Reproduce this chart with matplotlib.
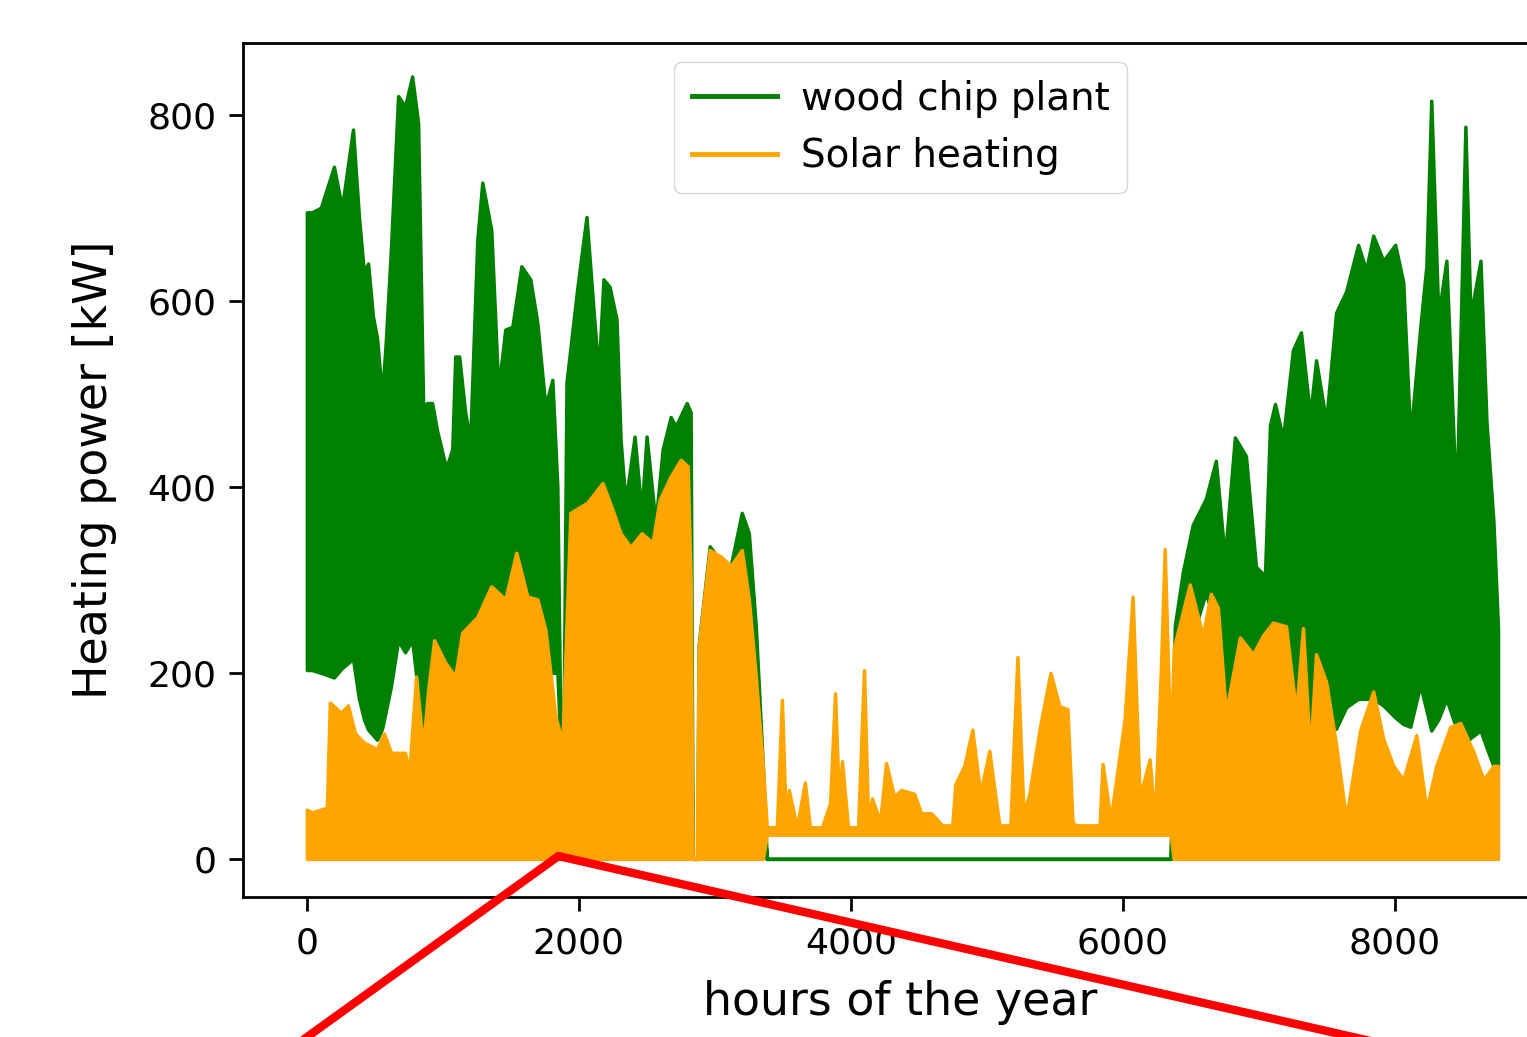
import matplotlib
matplotlib.use("Agg")
import matplotlib.pyplot as plt
from matplotlib.lines import Line2D

# wood chip plant: hour, upper envelope, lower envelope [kW]
wood_hours = [0, 37, 103, 199, 258, 339, 383, 420, 450, 486, 516, 553, 582, 619, 671,
              722, 774, 818, 855, 884, 921, 958, 1024, 1069, 1091, 1120, 1164, 1201,
              1253, 1290, 1356, 1408, 1459, 1511, 1577, 1643, 1695, 1754, 1805, 1842,
              1864, 1887, 1909, 1990, 2056, 2108, 2145, 2181, 2226, 2277, 2307, 2343,
              2410, 2461, 2498, 2564, 2616, 2675, 2712, 2793, 2822, 2837, 2870, 2881,
              2962, 3043, 3117, 3198, 3250, 3301, 3353, 3382, 6352, 6382, 6441, 6514,
              6610, 6684, 6750, 6824, 6905, 6979, 7045, 7082, 7119, 7178, 7251, 7310,
              7377, 7421, 7495, 7568, 7642, 7730, 7789, 7841, 7915, 8003, 8062, 8114,
              8187, 8232, 8268, 8320, 8379, 8453, 8519, 8556, 8630, 8674, 8725, 8759]
wood_top = [695, 695, 700, 744, 700, 784, 690, 630, 640, 583, 560, 497, 560, 658, 820,
            809, 841, 791, 486, 490, 490, 460, 420, 440, 540, 540, 480, 450,
            665, 727, 676, 504, 569, 572, 637, 623, 576, 486, 515, 400,
            140, 130, 512, 615, 690, 590, 522, 623, 615, 580, 450, 383,
            454, 372, 454, 361, 440, 475, 465, 490, 480, 0, 0, 230,
            336, 320, 315, 372, 350, 250, 100, 0, 0, 250, 308, 359,
            387, 428, 323, 453, 433, 314, 304, 466, 489, 452, 547, 566,
            476, 536, 470, 587, 610, 660, 633, 670, 643, 660, 620, 453,
            571, 637, 815, 583, 643, 377, 787, 583, 643, 470, 363, 248]
wood_bot = [203, 203, 200, 195, 205, 215, 172, 150, 139, 133, 128, 140, 160, 186, 235,
            222, 235, 180, 128, 136, 180, 200, 200, 196, 196, 200, 200, 200,
            200, 200, 200, 200, 200, 200, 200, 200, 200, 200, 200, 200,
            125, 125, 200, 200, 200, 200, 200, 200, 200, 200, 200, 200,
            200, 200, 200, 200, 200, 200, 200, 200, 200, 0, 0, 100,
            100, 100, 100, 100, 100, 100, 50, 0, 0, 200, 220, 240,
            286, 250, 157, 200, 226, 198, 200, 210, 221, 221, 180, 162,
            138, 138, 138, 140, 163, 172, 172, 172, 165, 152, 145, 142,
            187, 160, 138, 150, 172, 140, 123, 130, 138, 120, 100, 100]

# solar heating: hour, upper envelope, lower envelope [kW]
solar_hours = [0, 37, 147, 169, 251, 302, 354, 420, 516, 567, 619, 722, 752, 803, 855,
               891, 936, 1017, 1091, 1142, 1253, 1356, 1459, 1540, 1621, 1695, 1754,
               1828, 1879, 1938, 2063, 2174, 2248, 2307, 2380, 2461, 2542, 2594, 2675,
               2749, 2800, 2822, 2837, 2867, 2881, 2962, 3043, 3117, 3198, 3250, 3301,
               3353, 3382, 3397, 3456, 3493, 3522, 3544, 3603, 3662, 3699, 3788, 3847,
               3884, 3913, 3935, 3979, 4053, 4097, 4127, 4156, 4215, 4259, 4318, 4370,
               4466, 4517, 4591, 4672, 4746, 4768, 4834, 4893, 4952, 5018, 5092, 5173,
               5225, 5269, 5313, 5387, 5468, 5534, 5593, 5630, 5652, 5829, 5851, 5910,
               6013, 6072, 6124, 6197, 6234, 6279, 6308, 6352, 6374, 6492, 6588, 6647,
               6699, 6758, 6861, 6957, 7030, 7104, 7200, 7274, 7325, 7377, 7421, 7495,
               7568, 7642, 7745, 7841, 7915, 7989, 8062, 8158, 8232, 8305, 8408, 8482,
               8578, 8652, 8725, 8759]
solar_top = [53, 50, 55, 168, 157, 165, 135, 125, 118, 135, 114, 114, 92, 196, 120,
             180, 235, 211, 196, 243, 260, 293, 279, 329, 282, 279, 246,
             153, 125, 372, 383, 404, 375, 350, 335, 350, 340, 386, 411,
             429, 422, 300, 0, 0, 228, 332, 325, 315, 332, 279, 196,
             100, 34, 34, 34, 171, 40, 74, 34, 82, 34, 34, 60,
             178, 60, 105, 34, 34, 203, 40, 65, 40, 103, 67, 74,
             70, 49, 49, 36, 36, 80, 100, 139, 70, 116, 36, 36,
             217, 50, 70, 139, 200, 164, 161, 40, 36, 36, 102, 42,
             150, 282, 66, 107, 39, 200, 333, 107, 226, 295, 240, 285,
             270, 157, 238, 220, 240, 254, 250, 157, 248, 111, 220, 190,
             123, 43, 138, 180, 129, 100, 85, 133, 53, 100, 142, 146,
             115, 85, 100, 100]
solar_bot = [0] * 52 + [26] * 55 + [0] * 32

x_ticks = [0, 2000, 4000, 6000, 8000]
y_ticks = [0, 200, 400, 600, 800]

fig = plt.figure(figsize=(15.27, 10.37), dpi=100)
ax = fig.add_axes([0.1591, 0.135, 0.8612, 0.8235])

ax.fill_between(wood_hours, wood_bot, wood_top, color="green", linewidth=2.5)
ax.fill_between(solar_hours, solar_bot, solar_top, color="orange", linewidth=2.5)

ax.set_xlim(-470, 9200)
ax.set_ylim(-41, 877)
ax.set_xticks(x_ticks)
ax.set_yticks(y_ticks)
ax.tick_params(labelsize=26, length=10, width=2)
ax.tick_params(axis="x", pad=11)
ax.tick_params(axis="y", pad=9)
for s in ax.spines.values():
    s.set_linewidth(2)

ax.set_xlabel("hours of the year", fontsize=33, labelpad=14)
ax.set_ylabel("Heating power [kW]", fontsize=33, labelpad=22)

handles = [Line2D([], [], color="green", lw=3.5), Line2D([], [], color="orange", lw=3.5)]
ax.legend(handles, ["wood chip plant", "Solar heating"], loc="upper center",
          fontsize=28, handlelength=2.2, handletextpad=0.6, labelspacing=0.5,
          borderpad=0.45)

# red zoom marker lines
for end in [(289, -13), (1410, -13)]:
    ax.annotate("", xy=(1850, 3), xycoords="data", xytext=end, textcoords="figure pixels",
                arrowprops=dict(arrowstyle="-", color="red", lw=6, shrinkA=0, shrinkB=0),
                annotation_clip=False)

fig.savefig("out.png", dpi=100)
